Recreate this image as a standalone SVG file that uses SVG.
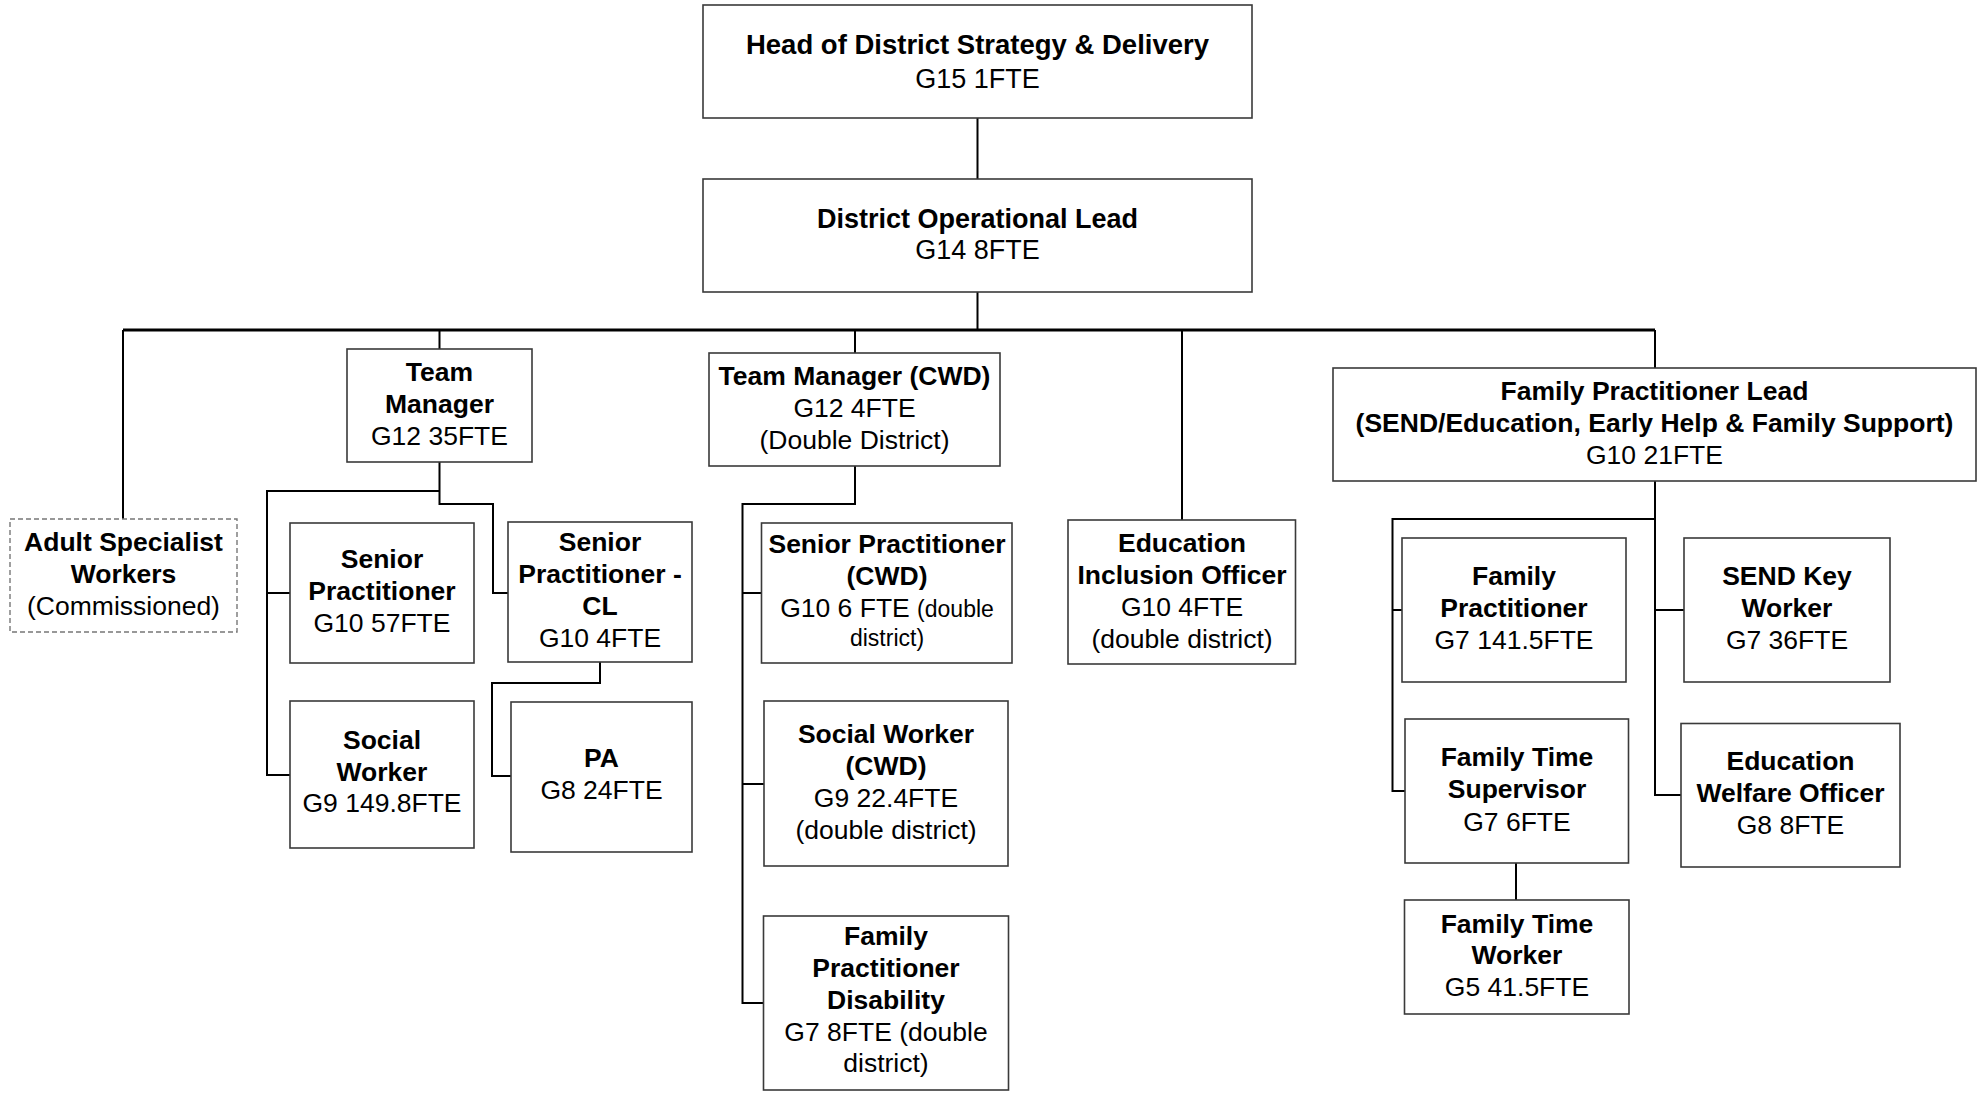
<svg xmlns="http://www.w3.org/2000/svg" width="1988" height="1096" viewBox="0 0 1988 1096">
<style>
.box{fill:#fff;stroke:#3a3a3a;stroke-width:1.6}
.dash{fill:#fff;stroke:#777;stroke-width:1.4;stroke-dasharray:5 3}
.c{fill:none;stroke:#000;stroke-width:2}
.bus{fill:none;stroke:#000;stroke-width:3}
text{font-family:"Liberation Sans",Arial,sans-serif;font-size:26.5px;text-anchor:middle;fill:#000}
.b{font-weight:bold}
.s{font-size:23px}
</style>
<rect width="1988" height="1096" fill="#fff"/>
<g id="connectors">
<path class="c" d="M977.5 118V179M977.5 292V330"/>
<path class="bus" d="M123 330H1655"/>
<path class="c" d="M123 330V519M439.5 330V349M855 330V353M1182 330V520M1655 330V368"/>
<path class="c" d="M439.5 462V491H267V775H290M267 593H290M439.5 491V504H493V593H508"/>
<path class="c" d="M600 662V683H492V776H511"/>
<path class="c" d="M855 466V504H742.5V1003H763.5M742.5 593H761.5M742.5 784H764"/>
<path class="c" d="M1655 481V519H1392.5V791H1405M1392.5 610H1402M1655 519V795H1681M1655 610H1684"/>
<path class="c" d="M1516 863V900"/>
</g>
<g id="head"><rect class="box" x="703" y="5" width="549" height="113"/><text class="b" x="977.5" y="54" style="font-size:27.5px">Head of District Strategy &amp; Delivery</text><text x="977.5" y="88" style="font-size:27px">G15 1FTE</text></g>
<g id="dol"><rect class="box" x="703" y="179" width="549" height="113"/><text class="b" x="977.5" y="228" style="font-size:27px">District Operational Lead</text><text x="977.5" y="259" style="font-size:27px">G14 8FTE</text></g>
<g id="adult"><rect class="dash" x="10" y="519" width="227" height="113"/><text class="b" x="123.5" y="551">Adult Specialist</text><text class="b" x="123.5" y="583">Workers</text><text x="123.5" y="615">(Commissioned)</text></g>
<g id="tm"><rect class="box" x="347" y="349" width="185" height="113"/><text class="b" x="439.5" y="381">Team</text><text class="b" x="439.5" y="413">Manager</text><text x="439.5" y="445">G12 35FTE</text></g>
<g id="sp"><rect class="box" x="290" y="523" width="184" height="140"/><text class="b" x="382" y="568">Senior</text><text class="b" x="382" y="600">Practitioner</text><text x="382" y="632">G10 57FTE</text></g>
<g id="spcl"><rect class="box" x="508" y="522" width="184" height="140"/><text class="b" x="600" y="551">Senior</text><text class="b" x="600" y="583">Practitioner -</text><text class="b" x="600" y="615">CL</text><text x="600" y="647">G10 4FTE</text></g>
<g id="sw"><rect class="box" x="290" y="701" width="184" height="147"/><text class="b" x="382" y="749">Social</text><text class="b" x="382" y="781">Worker</text><text x="382" y="812">G9 149.8FTE</text></g>
<g id="pa"><rect class="box" x="511" y="702" width="181" height="150"/><text class="b" x="601.5" y="767">PA</text><text x="601.5" y="799">G8 24FTE</text></g>
<g id="tmcwd"><rect class="box" x="709" y="353" width="291" height="113"/><text class="b" x="854.5" y="385">Team Manager (CWD)</text><text x="854.5" y="417">G12 4FTE</text><text x="854.5" y="449">(Double District)</text></g>
<g id="spcwd"><rect class="box" x="761.5" y="523" width="250.5" height="140"/><text class="b" x="887" y="553">Senior Practitioner</text><text class="b" x="887" y="585">(CWD)</text><text x="887" y="617">G10 6 FTE <tspan class="s">(double</tspan></text><text class="s" x="887" y="646">district)</text></g>
<g id="swcwd"><rect class="box" x="764" y="701" width="244" height="165"/><text class="b" x="886" y="743">Social Worker</text><text class="b" x="886" y="775">(CWD)</text><text x="886" y="807">G9 22.4FTE</text><text x="886" y="839">(double district)</text></g>
<g id="fpd"><rect class="box" x="763.5" y="916" width="245" height="174"/><text class="b" x="886" y="945">Family</text><text class="b" x="886" y="977">Practitioner</text><text class="b" x="886" y="1009">Disability</text><text x="886" y="1041">G7 8FTE (double</text><text x="886" y="1072">district)</text></g>
<g id="eio"><rect class="box" x="1068" y="520" width="227.5" height="144"/><text class="b" x="1182" y="552">Education</text><text class="b" x="1182" y="584">Inclusion Officer</text><text x="1182" y="616">G10 4FTE</text><text x="1182" y="648">(double district)</text></g>
<g id="fpl"><rect class="box" x="1333" y="368" width="643" height="113"/><text class="b" x="1654.5" y="400">Family Practitioner Lead</text><text class="b" x="1654.5" y="432">(SEND/Education, Early Help &amp; Family Support)</text><text x="1654.5" y="464">G10 21FTE</text></g>
<g id="fp"><rect class="box" x="1402" y="538" width="224" height="144"/><text class="b" x="1514" y="585">Family</text><text class="b" x="1514" y="617">Practitioner</text><text x="1514" y="649">G7 141.5FTE</text></g>
<g id="skw"><rect class="box" x="1684" y="538" width="206" height="144"/><text class="b" x="1787" y="585">SEND Key</text><text class="b" x="1787" y="617">Worker</text><text x="1787" y="649">G7 36FTE</text></g>
<g id="fts"><rect class="box" x="1405" y="719" width="223.5" height="144"/><text class="b" x="1517" y="766">Family Time</text><text class="b" x="1517" y="798">Supervisor</text><text x="1517" y="831">G7 6FTE</text></g>
<g id="ewo"><rect class="box" x="1681" y="723.5" width="219" height="143.5"/><text class="b" x="1790.5" y="770">Education</text><text class="b" x="1790.5" y="802">Welfare Officer</text><text x="1790.5" y="834">G8 8FTE</text></g>
<g id="ftw"><rect class="box" x="1404.5" y="900" width="224.5" height="114"/><text class="b" x="1517" y="933">Family Time</text><text class="b" x="1517" y="964">Worker</text><text x="1517" y="996">G5 41.5FTE</text></g>
</svg>
